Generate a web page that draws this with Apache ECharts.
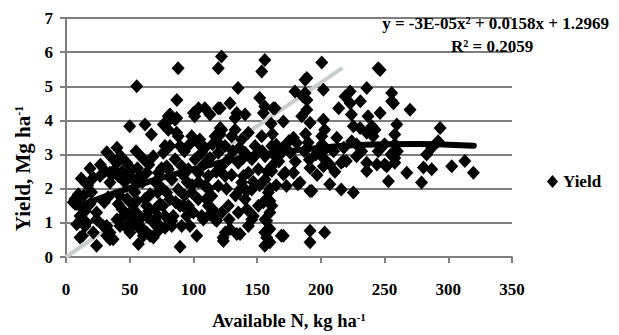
<!DOCTYPE html>
<html>
<head>
<meta charset="utf-8">
<script src="https://cdn.jsdelivr.net/npm/echarts@6/dist/echarts.min.js"></script>
<style>
  html, body { margin: 0; padding: 0; background: #fff; }
  #chart { width: 619px; height: 335px; }
  #err { position: absolute; left: 0; top: 0; font: 10px monospace; color: red; width: 619px; }
</style>
</head>
<body>
<div id="chart"></div>
<div id="err"></div>
<script>
// Yield points [available N kg/ha, yield Mg/ha]
const yieldPoints = [
  // low N
  [5.7, 1.6], [7, 1.7], [9.7, 1.84], [11, 1.5], [8.4, 0.96], [11, 0.57], [11, 1.2], [13, 0.62],
  [8, 1.64], [15, 1.35], [15, 0.91], [16, 1.01], [18.8, 2.59], [18.8, 1.55], [21.4, 2.32],
  [21.4, 0.72], [24, 1.1], [24, 1.3], [24, 0.33], [26.7, 2.37], [29.3, 0.91], [30.6, 2.52],
  [32, 3.07], [32, 0.91], [32, 0.62], [34.5, 2.47], [34.5, 2.18], [34.5, 0.72], [34.5, 0.52],
  [37, 2.86], [37, 0.52], [40, 3.2], [40, 2.76], [41, 2.37], [41, 1.55], [42.4, 0.91], [45, 1.2],
  [47.6, 2.76], [47.6, 0.91], [47.6, 0.86], [50, 3.83], [50.2, 0.72], [51.6, 2.57], [51.6, 1.55],
  [52.8, 2.27], [52.8, 1.1], [52.8, 0.96], [55.5, 5.0], [55.5, 1.64], [56.8, 0.38], [58, 2.37],
  [58, 0.91], [58, 0.82], [60.7, 0.62], [62, 3.88], [63.3, 2.47], [63.3, 1.5], [63.3, 1.2],
  [63.3, 0.72], [66, 1.84], [66, 0.62], [67, 3.59], [68.5, 2.95], [68.5, 1.01], [68.5, 0.57],
  [71.2, 0.72], [72.5, 2.47], [73.8, 2.08], [73.8, 1.55], [73.8, 0.91], [76.4, 3.05], [76.4, 3.88],
  [77.7, 3.25], [77.7, 1.2], [77.7, 0.86], [79, 3.93], [79, 2.66], [79, 1.89],
  [14, 1.8], [17, 2.1], [20, 1.9], [12, 2.3], [30, 1.6], [33, 1.75], [36, 2.4], [42, 1.8],
  [44, 2.5], [46, 2.2], [48, 1.7], [50, 2.4], [54, 1.9], [56, 2.6], [60, 2.2], [62, 1.7],
  [65, 2.7], [70, 2.2], [72, 1.9], [75, 2.6], [38, 2.55], [27, 2.7], [43, 2.95], [55, 3.1],
  [60, 2.9], [40, 1.1], [44, 1.4], [49, 1.25], [55, 1.3], [59, 1.15], [65, 1.35], [70, 1.4],
  [72, 1.2], [76, 1.5],
  // middle N
  [80.3, 4.12], [85.6, 4.02], [80.3, 3.73], [88.1, 3.54], [81.6, 3.25], [85.6, 2.86], [80.3, 2.57],
  [90.8, 2.66], [83, 2.27], [88.1, 1.98], [81.6, 1.69], [92.1, 1.5], [84.2, 1.2], [90.8, 0.91],
  [83, 0.91], [98.7, 3.54], [103.8, 3.34], [106.5, 3.05], [101.3, 2.86], [96, 2.57], [103.8, 2.47],
  [111.7, 2.37], [109.1, 2.08], [98.7, 1.89], [103.8, 1.69], [96, 1.5], [111.7, 1.5], [106.5, 1.2],
  [117, 1.1], [122.2, 1.3], [127.4, 1.5], [114.4, 1.79], [119.5, 2.08], [124.8, 2.37], [122.2, 2.66],
  [127.4, 2.86], [119.5, 3.05], [124.8, 3.25], [117, 3.54], [122.2, 3.73], [130, 3.54],
  [132.7, 3.73], [137.9, 3.44], [143.1, 3.64], [148.4, 3.25], [140.5, 3.05], [145.8, 2.86],
  [135.2, 2.76], [143.1, 2.47], [151, 2.57], [137.9, 2.18], [145.8, 1.98], [156.2, 2.27],
  [161.5, 2.66], [156.2, 2.95], [161.5, 3.25], [153.6, 3.54], [140.5, 1.69], [151, 1.5],
  [135.2, 1.3], [145.8, 1.1], [156.2, 1.1], [161.5, 1.5], [158.8, 1.89],
  [88, 5.53], [122, 5.87], [119.5, 5.53], [156, 5.77], [153.6, 5.43], [135, 4.95], [87, 4.6],
  [104, 4.36], [109, 4.36], [113, 4.17], [101, 4.12], [119.5, 4.36], [128.7, 4.5], [132.6, 4.07],
  [140.5, 4.17], [152, 4.66], [156, 4.41], [81.6, 4.17], [86.9, 4.07], [100, 4.22], [121, 3.78],
  [121, 3.59], [119.5, 3.34], [105, 3.44], [109, 3.2], [86.9, 3.64], [89.5, 3.25], [154.9, 4.22],
  [162.7, 4.36], [134, 4.22], [121, 4.36],
  [89.5, 0.3], [102.6, 0.62], [123.5, 0.47], [125, 0.72], [134, 0.67], [156, 0.33], [156, 0.72],
  [83, 1.06], [89.5, 1.5], [94.7, 1.2], [97.3, 0.91], [107.8, 1.1], [113, 1.25], [118.2, 1.06],
  [123.3, 0.57], [128.7, 0.82], [136.6, 0.67], [143.1, 0.91], [147, 1.2], [157.5, 1.06],
  [157.5, 0.57], [157.5, 1.69], [154.9, 1.6], [136.6, 1.98], [141.8, 1.93], [139.2, 2.37],
  [93, 3.1], [95, 2.2], [100, 1.3], [108, 2.7], [113, 2.9], [115, 3.3], [112, 2.0], [118, 2.5],
  [126, 2.0], [130, 2.4], [131, 3.1], [133, 1.8], [128, 1.1], [136, 3.2], [139, 2.9], [142, 1.4],
  [147, 2.2], [149, 3.0], [152, 2.1], [154, 3.1], [158, 2.5], [160, 2.0], [163, 3.0], [93, 1.8],
  [97, 3.3], [104, 2.2], [110, 1.7], [115, 1.4], [92, 2.4], [86, 1.6], [99, 2.1],
  // high N
  [200.7, 5.7], [187.6, 5.19], [179.7, 4.85], [202, 4.9], [164, 4.36], [170.6, 3.97], [186, 4.7],
  [189, 4.31], [185, 4.12], [191.5, 3.93], [223, 4.85], [236, 4.95], [231, 4.56], [223, 4.5],
  [214, 4.36], [224, 4.17], [237, 4.12], [225.5, 3.83], [202, 4.02], [203, 3.73], [200.7, 3.54],
  [212.5, 3.49], [236, 3.64], [241, 3.54], [165, 3.29], [178.5, 3.49], [181, 3.34], [161.5, 2.52],
  [172, 2.47], [178.5, 2.47], [173, 2.08], [182, 2.13], [191.5, 1.93], [202, 2.66], [207, 2.71],
  [216, 2.76], [220, 2.81], [207, 2.13], [216, 1.98], [225.5, 1.89], [228, 2.95], [236, 2.76],
  [236, 2.52], [244, 2.71], [160, 1.64], [160, 1.3], [160, 0.82], [169, 0.62], [160, 0.43],
  [191.5, 0.77], [191.5, 0.43], [203, 0.72],
  [246.5, 5.48], [255.6, 4.8], [257, 4.5], [246.5, 4.22], [270, 4.31], [259.6, 3.88], [258, 3.59],
  [242.5, 3.73], [293.6, 3.78], [292, 3.39], [258, 3.05], [258, 2.76], [250, 2.71], [253, 2.22],
  [267.4, 2.47], [279, 2.18], [280.5, 2.62], [287, 2.57], [283, 3.0], [302.7, 2.66], [313, 2.81],
  [319.7, 2.47], [219, 4.7], [240, 3.83], [230.8, 3.78], [224.2, 3.39], [189, 5.24], [187.6, 4.8],
  [189, 4.6], [245, 5.53], [255.6, 4.56], [191.5, 2.61], [217.6, 2.81], [251.7, 2.66], [258, 2.9],
  [170.6, 2.42], [183.7, 2.18], [192.9, 1.93], [170.6, 0.62],
  [161, 3.9], [162, 3.6], [168, 3.0], [170, 3.2], [175, 3.4], [176, 3.05], [188, 3.6], [190, 3.35],
  [187, 3.1], [191, 2.85], [201, 3.3], [202, 3.1], [202, 2.9], [210, 3.1], [218, 3.2], [228, 3.3],
  [245, 3.1], [250, 3.3], [255, 3.0], [258, 3.3], [260, 3.1], [287, 3.2], [232, 3.1], [196, 3.0],
  [180, 2.8], [167, 2.8], [211, 2.5], [197, 2.4], [165, 2.1]
];

// polynomial trendline
const trendPoints = [
  [8, 1.45], [25, 1.7], [50, 2.02], [75, 2.32], [100, 2.57], [125, 2.8], [150, 2.98],
  [175, 3.1], [200, 3.2], [225, 3.27], [250, 3.3], [275, 3.31], [300, 3.29], [320, 3.26]
];

// light grey straight line
const refLinePoints = [[0, 0], [217, 5.54]];

const xTicks = { min: 0, max: 350, interval: 50 };
const yTicks = { min: 0, max: 7, interval: 1 };

const equationText = 'y = -3E-05x\u00b2 + 0.0158x + 1.2969';
const r2Text = 'R\u00b2 = 0.2059';

const serif = "'Liberation Serif', 'Times New Roman', serif";
const axisGrey = '#7f7f7f';
const boldText = { fontFamily: serif, fontWeight: 'bold', color: '#000' };

// svg renderer: the canvas one lost every axis line here
const chart = echarts.init(document.getElementById('chart'), null, { renderer: 'svg' });

try {
  chart.setOption({
    animation: false,
    title: [
      { text: equationText, right: 10, top: 15, padding: 0, textStyle: { ...boldText, fontSize: 17 } },
      { text: r2Text, left: 451, top: 38, padding: 0, textStyle: { ...boldText, fontSize: 17 } }
    ],
    grid: { left: 66, top: 18, right: 107, bottom: 77 },
    legend: {
      data: ['Yield'],
      left: 542,
      top: 168,
      itemWidth: 11,
      itemHeight: 13,
      itemGap: 1,
      textStyle: { ...boldText, fontSize: 17 }
    },
    xAxis: {
      type: 'value',
      min: xTicks.min,
      max: xTicks.max,
      interval: xTicks.interval,
      name: '{a|Available N, kg ha}{s|-1}',
      nameLocation: 'middle',
      nameGap: 54,
      nameTextStyle: {
        rich: {
          a: { ...boldText, fontSize: 18.5 },
          s: { ...boldText, fontSize: 11, verticalAlign: 'top', padding: [0, 0, 7, 0] }
        }
      },
      axisLine: { show: true, lineStyle: { color: axisGrey, width: 2 } },
      axisTick: { show: true, length: 6, lineStyle: { color: axisGrey, width: 2 } },
      axisLabel: { ...boldText, margin: 24, fontSize: 17 },
      splitLine: { show: false }
    },
    yAxis: {
      type: 'value',
      min: yTicks.min,
      max: yTicks.max,
      interval: yTicks.interval,
      name: '{a|Yield, Mg ha}{s|-1}',
      nameLocation: 'middle',
      nameRotate: 90,
      nameGap: 32,
      nameTextStyle: {
        padding: [0, 62, 0, 0],
        rich: {
          a: { ...boldText, fontSize: 21 },
          s: { ...boldText, fontSize: 12, verticalAlign: 'top', padding: [0, 0, 8, 0] }
        }
      },
      axisLine: { show: true, lineStyle: { color: axisGrey, width: 2 } },
      axisTick: { show: true, length: 6, lineStyle: { color: axisGrey, width: 2 } },
      axisLabel: { ...boldText, margin: 13, fontSize: 17 },
      splitLine: { show: true, lineStyle: { color: axisGrey, width: 2 } }
    },
    series: [
      {
        name: 'ref',
        type: 'line',
        data: refLinePoints,
        showSymbol: false,
        z: 1,
        lineStyle: { color: '#c9cfc9', width: 4 }
      },
      {
        name: 'Yield',
        type: 'scatter',
        data: yieldPoints,
        symbol: 'diamond',
        symbolSize: [13, 14],
        z: 2,
        itemStyle: { color: '#000', opacity: 1 }
      },
      {
        name: 'trend',
        type: 'line',
        data: trendPoints,
        smooth: true,
        showSymbol: false,
        z: 3,
        lineStyle: { color: '#000', width: 6, cap: 'round' }
      }
    ]
  });
} catch (e) {
  document.getElementById('err').textContent = 'CATCH: ' + e.message;
}
</script>
</body>
</html>
